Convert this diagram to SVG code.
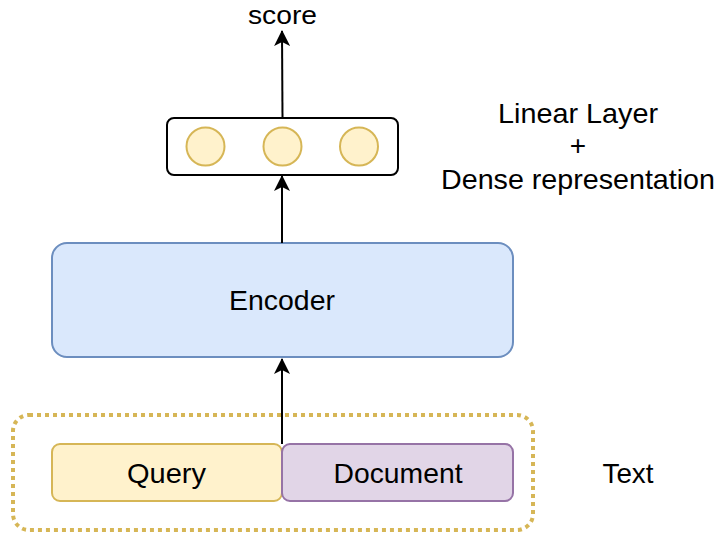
<svg xmlns="http://www.w3.org/2000/svg" width="717" height="537" viewBox="0 0 717 537">
<style>
text{font-family:"Liberation Sans",Arial,sans-serif;font-size:28px;fill:#000;text-anchor:middle}
.conn{stroke:#000;stroke-width:2;fill:none}
.dot{fill:#fff2cc;stroke:#d6b656;stroke-width:2}
</style>
<defs>
<marker id="arr" viewBox="0 0 16 16" refX="15" refY="8" markerWidth="16" markerHeight="16" markerUnits="userSpaceOnUse" orient="auto">
<path d="M0,0 L16,8 L0,16 L4,8 Z" fill="#000"/>
</marker>
</defs>
<g id="text-group">
<rect x="13" y="415" width="520" height="115" rx="16" fill="none" stroke="#d6b656" stroke-width="4" stroke-dasharray="4 4"/>
</g>
<g id="query">
<rect x="52" y="444" width="230" height="57" rx="8" fill="#fff2cc" stroke="#d6b656" stroke-width="2"/>
<text x="166.5" y="483" textLength="79" lengthAdjust="spacingAndGlyphs">Query</text>
</g>
<g id="document">
<rect x="282" y="444" width="231" height="57" rx="8" fill="#e1d5e7" stroke="#9673a6" stroke-width="2"/>
<text x="398" y="483" textLength="129" lengthAdjust="spacingAndGlyphs">Document</text>
</g>
<g id="encoder">
<rect x="52" y="243" width="461" height="114" rx="15" fill="#dae8fc" stroke="#6c8ebf" stroke-width="2"/>
<text x="282" y="310" textLength="106" lengthAdjust="spacingAndGlyphs">Encoder</text>
</g>
<g id="dense">
<rect x="167" y="118" width="231" height="57" rx="7" fill="#fff" stroke="#000" stroke-width="2"/>
<circle class="dot" cx="205.5" cy="146.5" r="19"/>
<circle class="dot" cx="282.5" cy="146.5" r="19"/>
<circle class="dot" cx="359" cy="146.5" r="19"/>
</g>
<g id="score">
<text x="282.5" y="24" style="font-size:26px" textLength="69" lengthAdjust="spacingAndGlyphs">score</text>
</g>
<g id="dense-label">
<text x="578" y="123" textLength="160" lengthAdjust="spacingAndGlyphs">Linear Layer</text>
<text x="578" y="155">+</text>
<text x="578" y="189" textLength="274" lengthAdjust="spacingAndGlyphs">Dense representation</text>
</g>
<g id="text-label">
<text x="628" y="483" textLength="51" lengthAdjust="spacingAndGlyphs">Text</text>
</g>
<g id="connectors">
<path class="conn" d="M282,444 L282,359" marker-end="url(#arr)"/>
<path class="conn" d="M282,243 L282,176" marker-end="url(#arr)"/>
<path class="conn" d="M282.5,118 L282,31" marker-end="url(#arr)"/>
</g>
</svg>
